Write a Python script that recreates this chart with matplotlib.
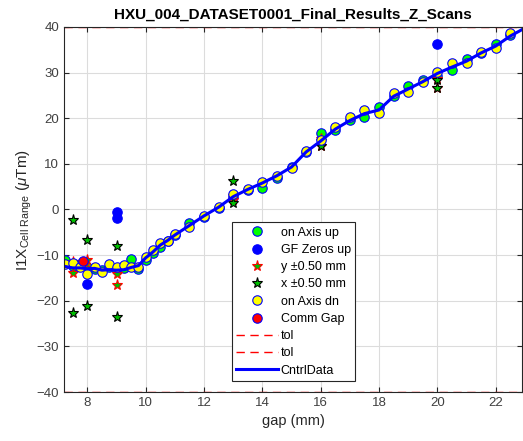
import numpy as np
import matplotlib
matplotlib.use("Agg")
import matplotlib.pyplot as plt

plt.rcParams['font.family'] = ['Liberation Sans', 'DejaVu Sans']
plt.rcParams['mathtext.fontset'] = 'custom'
plt.rcParams['mathtext.rm'] = 'Liberation Sans'
plt.rcParams['mathtext.it'] = 'Liberation Sans:italic'

# gap positions of the z scan
gap = [7.25, 7.5, 7.75, 8.0, 8.25, 8.5, 8.75, 9.0, 9.25, 9.5, 9.75, 10.0,
       10.25, 10.5, 10.75, 11.0, 11.5, 12.0, 12.5, 13.0, 13.5, 14.0, 14.5,
       15.0, 15.5, 16.0, 16.5, 17.0, 17.5, 18.0, 18.5, 19.0, 19.5, 20.0,
       20.5, 21.0, 21.5, 22.0, 22.5]

on_axis_up = [-11.0, -12.3, -12.0, -12.5, -13.0, -13.2, -12.5, -13.3, -12.8,
              -10.9, -13.0, -11.0, -9.5, -8.2, -7.0, -5.6, -2.9, -1.6, 0.3,
              2.8, 4.2, 4.6, 7.0, 9.2, 12.6, 16.7, 17.5, 19.6, 20.3, 22.4,
              24.9, 27.1, 28.3, 29.3, 30.6, 32.9, 34.2, 36.3, 38.2]

on_axis_dn = [-12.0, -11.8, -12.6, -14.2, -12.7, -13.8, -12.0, -12.6, -12.2,
              -12.5, -12.5, -10.5, -8.9, -7.3, -6.8, -5.4, -3.9, -1.4, 0.5,
              3.4, 4.5, 6.1, 7.3, 9.0, 12.9, 15.2, 18.0, 20.3, 21.8, 21.1,
              25.5, 25.8, 28.0, 30.2, 32.0, 32.0, 34.6, 35.3, 38.7]

cntrl_gap = gap + [22.9]
cntrl = [-12.5, -12.8, -12.8, -13.0, -12.9, -13.3, -13.2, -13.3, -13.2,
         -12.7, -12.3, -10.6, -9.3, -7.8, -6.8, -5.6, -3.5, -1.4, 0.5,
         2.8, 4.4, 5.8, 7.4, 9.3, 12.6, 15.0, 17.6, 19.5, 21.0, 21.8,
         24.8, 26.4, 28.0, 29.8, 31.2, 32.5, 34.3, 35.8, 38.0, 39.4]

gf_gap = [8.0, 9.0, 9.0, 20.0]
gf_zeros = [-16.3, -0.5, -1.9, 36.2]

off_gap = [7.5, 7.5, 8.0, 8.0, 9.0, 9.0, 13.0, 13.0, 16.0, 16.0, 20.0, 20.0]
y_off = [-14.0, -11.5, -11.0, -12.8, -14.1, -16.5, 2.0, 3.0, 14.0, 15.5, 26.7, 28.5]
x_off = [-2.3, -22.7, -6.6, -21.2, -8.0, -23.6, 6.2, 1.5, 13.8, 15.0, 26.7, 28.4]

comm_gap = [7.85]
comm_val = [-11.3]

tol = 40

fig = plt.figure(figsize=(5.23, 4.41), dpi=100)
ax = fig.add_axes([0.1224, 0.111, 0.8756, 0.828])

circ = dict(linestyle='none', marker='o', markersize=6.8, markeredgecolor='b',
            markeredgewidth=0.8)
ax.plot(gap, on_axis_up, markerfacecolor='#00ff00', label='on Axis up', **circ)
ax.plot(gf_gap, gf_zeros, markerfacecolor='b', label='GF Zeros up', **circ)
ax.plot(off_gap, y_off, linestyle='none', marker='*', markersize=8,
        markerfacecolor='#00c000', markeredgecolor='r', markeredgewidth=0.8,
        label='y \u00b10.50 mm')
ax.plot(off_gap, x_off, linestyle='none', marker='*', markersize=8,
        markerfacecolor='#00c000', markeredgecolor='k', markeredgewidth=0.8,
        label='x \u00b10.50 mm')
ax.plot(gap, on_axis_dn, markerfacecolor='#ffff00', label='on Axis dn', **circ)
ax.plot(comm_gap, comm_val, markerfacecolor='r', label='Comm Gap', **circ)
ax.axhline(tol, color='r', linestyle=(0, (6, 4)), linewidth=1, label='tol')
ax.axhline(-tol, color='r', linestyle=(0, (6, 4)), linewidth=1, label='tol')
ax.plot(cntrl_gap, cntrl, color='b', linewidth=2.2, label='CntrlData')

ax.set_xlim(7.2, 22.9)
ax.set_ylim(-40, 40)
ax.set_xticks(np.arange(8, 23, 2))
ax.set_yticks(np.arange(-40, 41, 10))
ax.grid(True, color='#dcdcdc', linewidth=0.8)
ax.set_axisbelow(True)
ax.tick_params(direction='in', length=3.5, labelsize=9.5, colors='#262626',
               labelcolor='#404040', top=True, right=True)
for s in ax.spines.values():
    s.set_color('#262626')
    s.set_linewidth(0.8)

ax.set_title('HXU_004_DATASET0001_Final_Results_Z_Scans', fontsize=11,
             fontweight='bold', pad=6)
ax.set_xlabel('gap (mm)', fontsize=10.5, color='#262626')
ax.set_ylabel(r'I1X$_{\mathrm{Cell\ Range}}$ ($\mathit{\mu}$Tm)', fontsize=11,
              color='#262626', labelpad=2)

leg = ax.legend(loc='lower left', bbox_to_anchor=(0.367, 0.030), fontsize=9,
                handlelength=3.3, handletextpad=0.25, borderpad=0.35,
                labelspacing=0.42, fancybox=False, edgecolor='#262626',
                framealpha=1, numpoints=1, borderaxespad=0)
leg.get_frame().set_linewidth(0.8)

fig.savefig('out.png', dpi=100)
